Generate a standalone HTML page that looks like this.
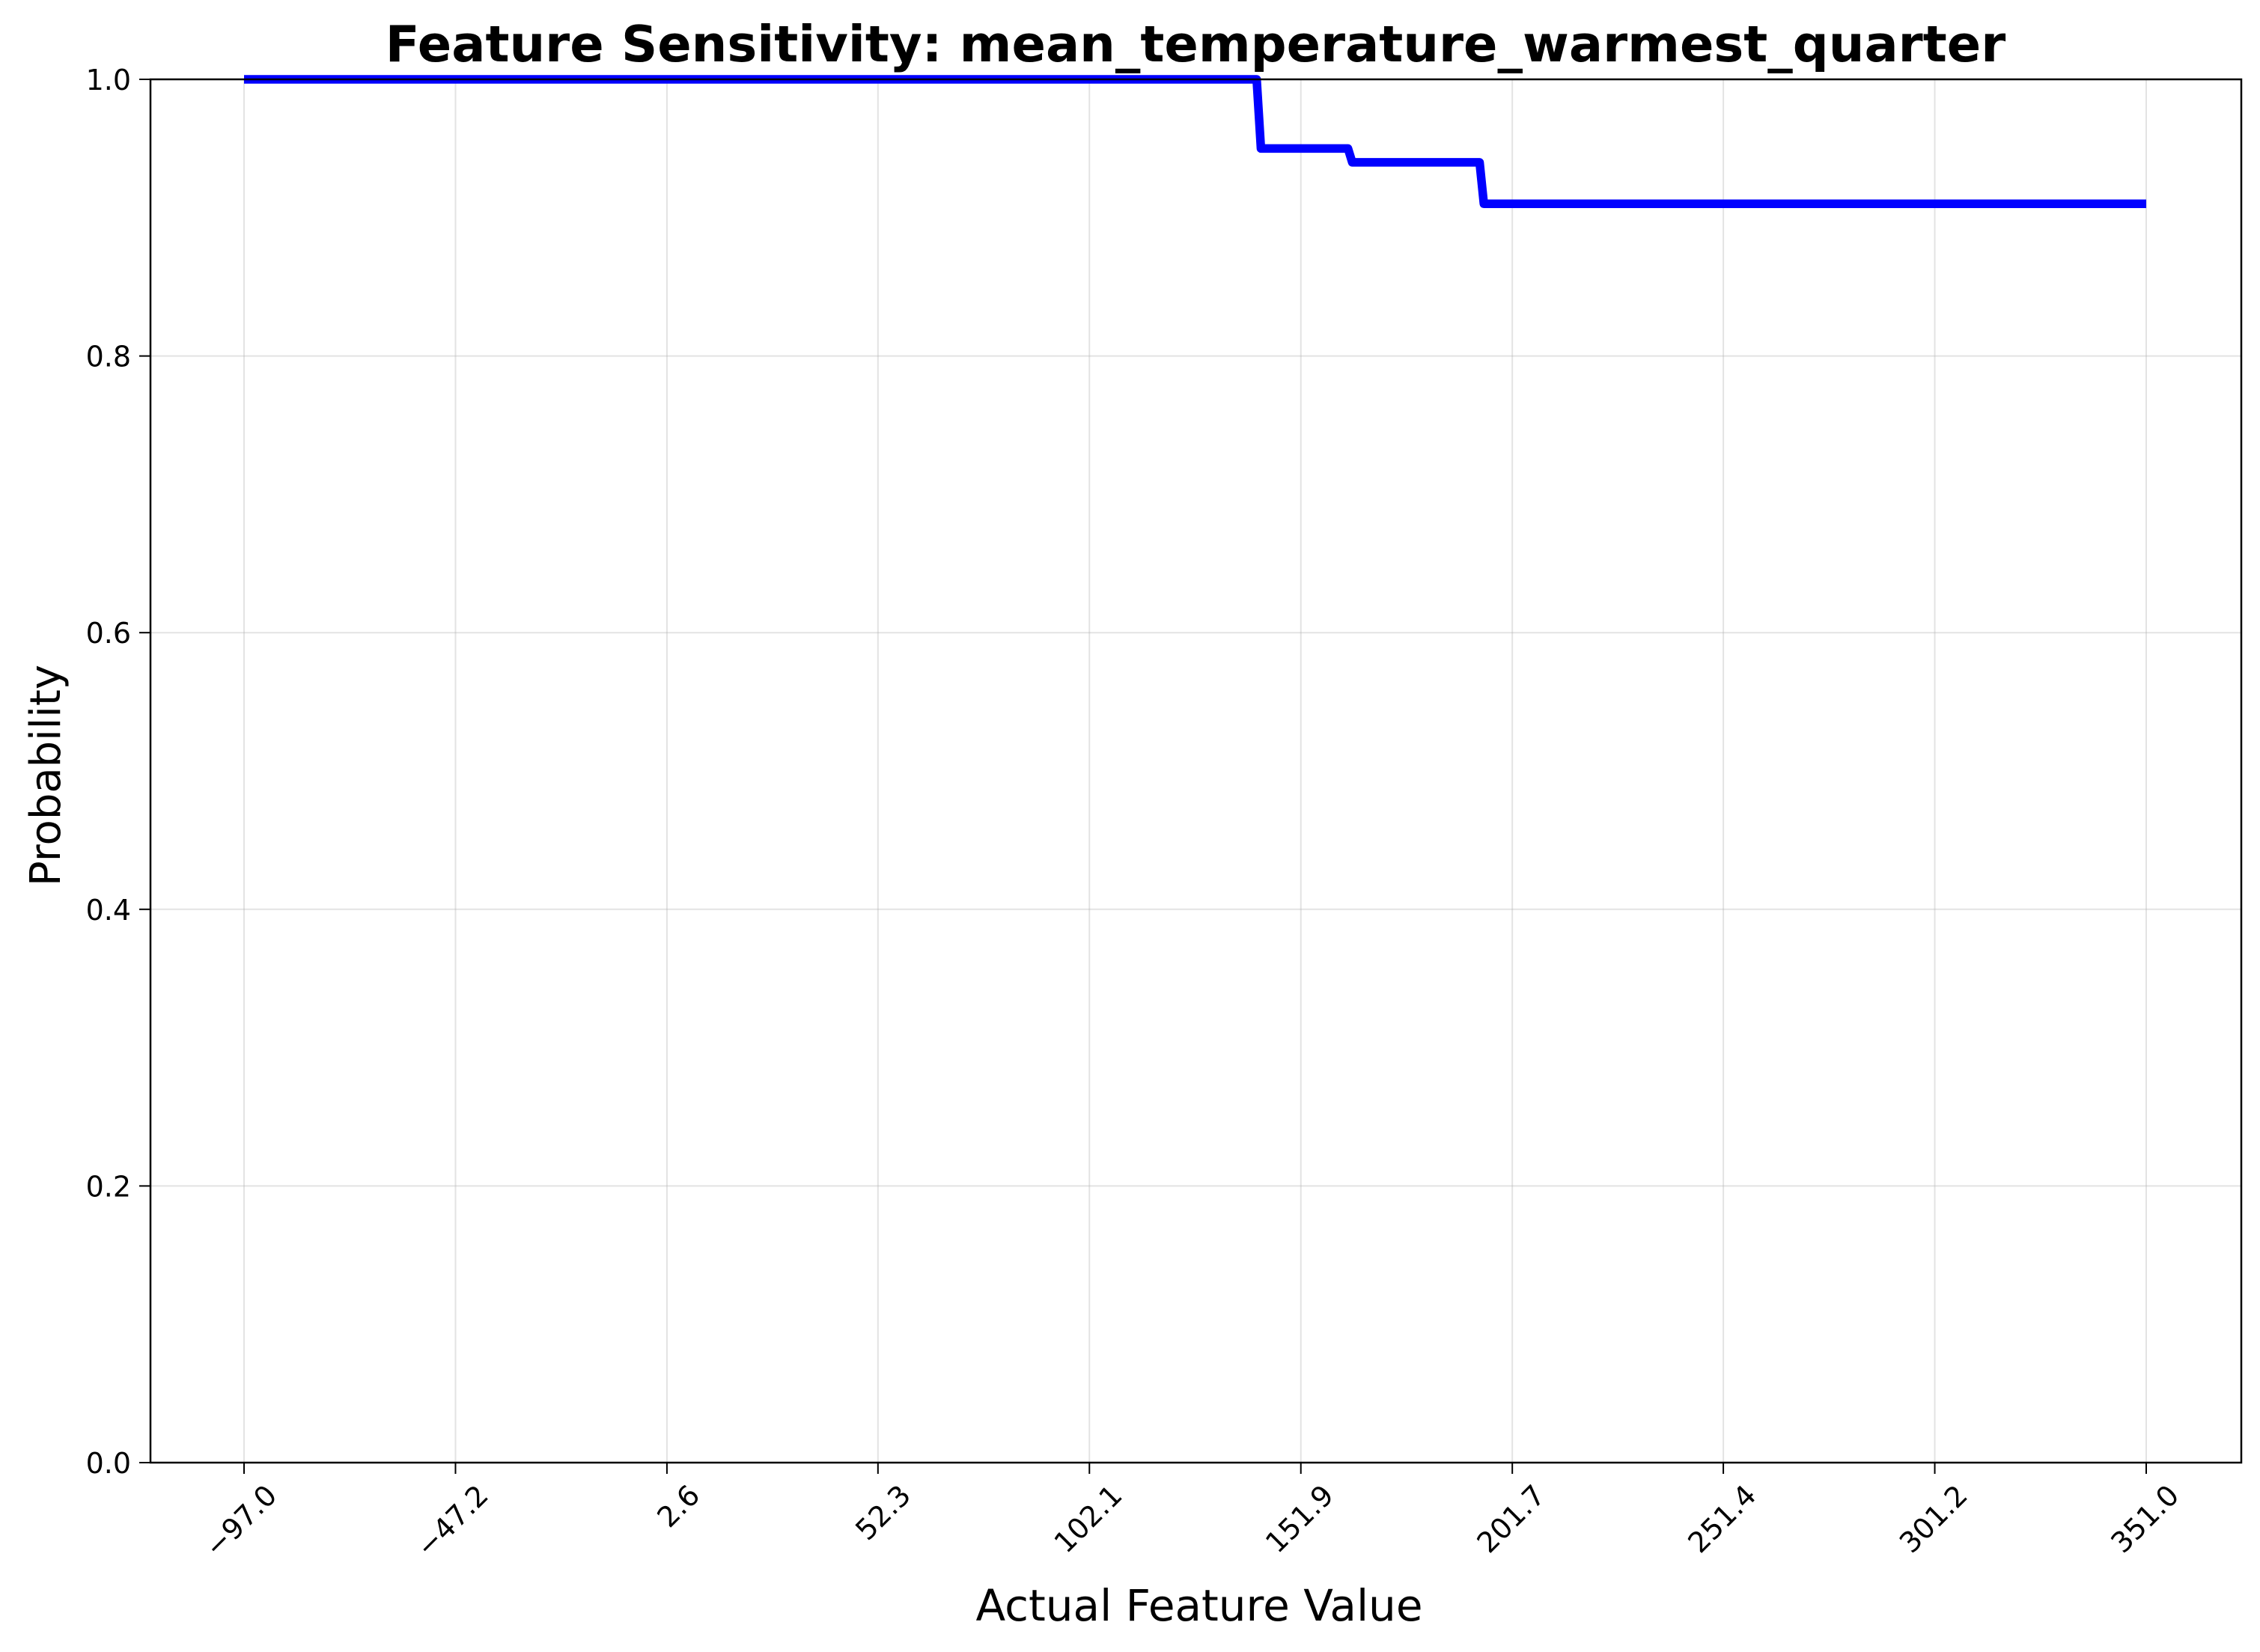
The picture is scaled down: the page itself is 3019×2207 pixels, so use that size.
<!DOCTYPE html>
<html><head><meta charset="utf-8"><style>
html,body{margin:0;padding:0;background:#fff;}
svg{display:block;font-family:"Liberation Sans","DejaVu Sans",sans-serif;}
</style></head><body>
<svg id="chart" width="3019" height="2207" viewBox="0 0 3019 2207" xmlns="http://www.w3.org/2000/svg">
<rect width="3019" height="2207" fill="#fff"/>
<text x="1597" y="82" text-anchor="middle" font-size="67" font-weight="bold" font-family="DejaVu Sans, sans-serif">Feature Sensitivity: mean_temperature_warmest_quarter</text>
<g id="grid"></g>
<g id="series"></g>
<rect x="201" y="106" width="2793" height="1848" fill="none" stroke="#000" stroke-width="2.5"/>
<g id="axes"></g>
<text x="1602" y="2165" text-anchor="middle" font-size="58" font-family="DejaVu Sans, sans-serif">Actual Feature Value</text>
<text transform="translate(80,1036) rotate(-90)" text-anchor="middle" font-size="56" font-family="DejaVu Sans, sans-serif">Probability</text>
</svg>
<script>
const featureValues = [-97, 141.5, 142.5, 163, 164, 194, 195, 351];
const probabilities = [1.0, 1.0, 0.95, 0.95, 0.94, 0.94, 0.91, 0.91];
const xTickValues = [-97.0, -47.2, 2.6, 52.3, 102.1, 151.9, 201.7, 251.4, 301.2, 351.0];
const xTickLabels = ["\u221297.0", "\u221247.2", "2.6", "52.3", "102.1", "151.9", "201.7", "251.4", "301.2", "351.0"];
const yTickValues = [0.0, 0.2, 0.4, 0.6, 0.8, 1.0];
const yTickLabels = ["0.0", "0.2", "0.4", "0.6", "0.8", "1.0"];

const NS = "http://www.w3.org/2000/svg";
const PL = 201, PR = 2994, PT = 106, PB = 1954;
const X0 = 326, X1 = 2867;
function xs(v){ return X0 + (v - (-97)) / (351 - (-97)) * (X1 - X0); }
function ys(v){ return PB - v * (PB - PT); }
function mk(tag, attrs, parent){ const e = document.createElementNS(NS, tag); for (const k in attrs) e.setAttribute(k, attrs[k]); parent.appendChild(e); return e; }

const grid = document.getElementById('grid');
const axes = document.getElementById('axes');
const series = document.getElementById('series');

xTickValues.forEach((v, i) => {
  const x = xs(v);
  const g = mk('line', {x1:x, x2:x, y1:PT, y2:PB, stroke:'#b0b0b0', 'stroke-opacity':0.35, 'stroke-width':2}, grid);
  
  
  const t = mk('line', {x1:x, x2:x, y1:PB, y2:PB+15, stroke:'#000', 'stroke-width':2}, axes);
  
  
  const lab = mk('text', {transform:`translate(${x+46},${PB+46}) rotate(-45)`, 'text-anchor':'end', 'font-size':38, 'font-family':'DejaVu Sans, sans-serif'}, axes);
  lab.textContent = xTickLabels[i];
  
  
});
yTickValues.forEach((v, i) => {
  const y = ys(v);
  const g = mk('line', {x1:PL, x2:PR, y1:y, y2:y, stroke:'#b0b0b0', 'stroke-opacity':0.35, 'stroke-width':2}, grid);
  
  
  const t = mk('line', {x1:PL-15, x2:PL, y1:y, y2:y, stroke:'#000', 'stroke-width':2}, axes);
  
  
  const lab = mk('text', {x:PL-26, y:y+14, 'text-anchor':'end', 'font-size':38, 'font-family':'DejaVu Sans, sans-serif'}, axes);
  lab.textContent = yTickLabels[i];
  
  
});
const pts = featureValues.map((v, i) => xs(v).toFixed(1) + ',' + ys(probabilities[i]).toFixed(1)).join(' ');
const line = mk('polyline', {points:pts, fill:'none', stroke:'#0000ff', 'stroke-width':11.5, 'stroke-linejoin':'round'}, series);


</script>
</body></html>
